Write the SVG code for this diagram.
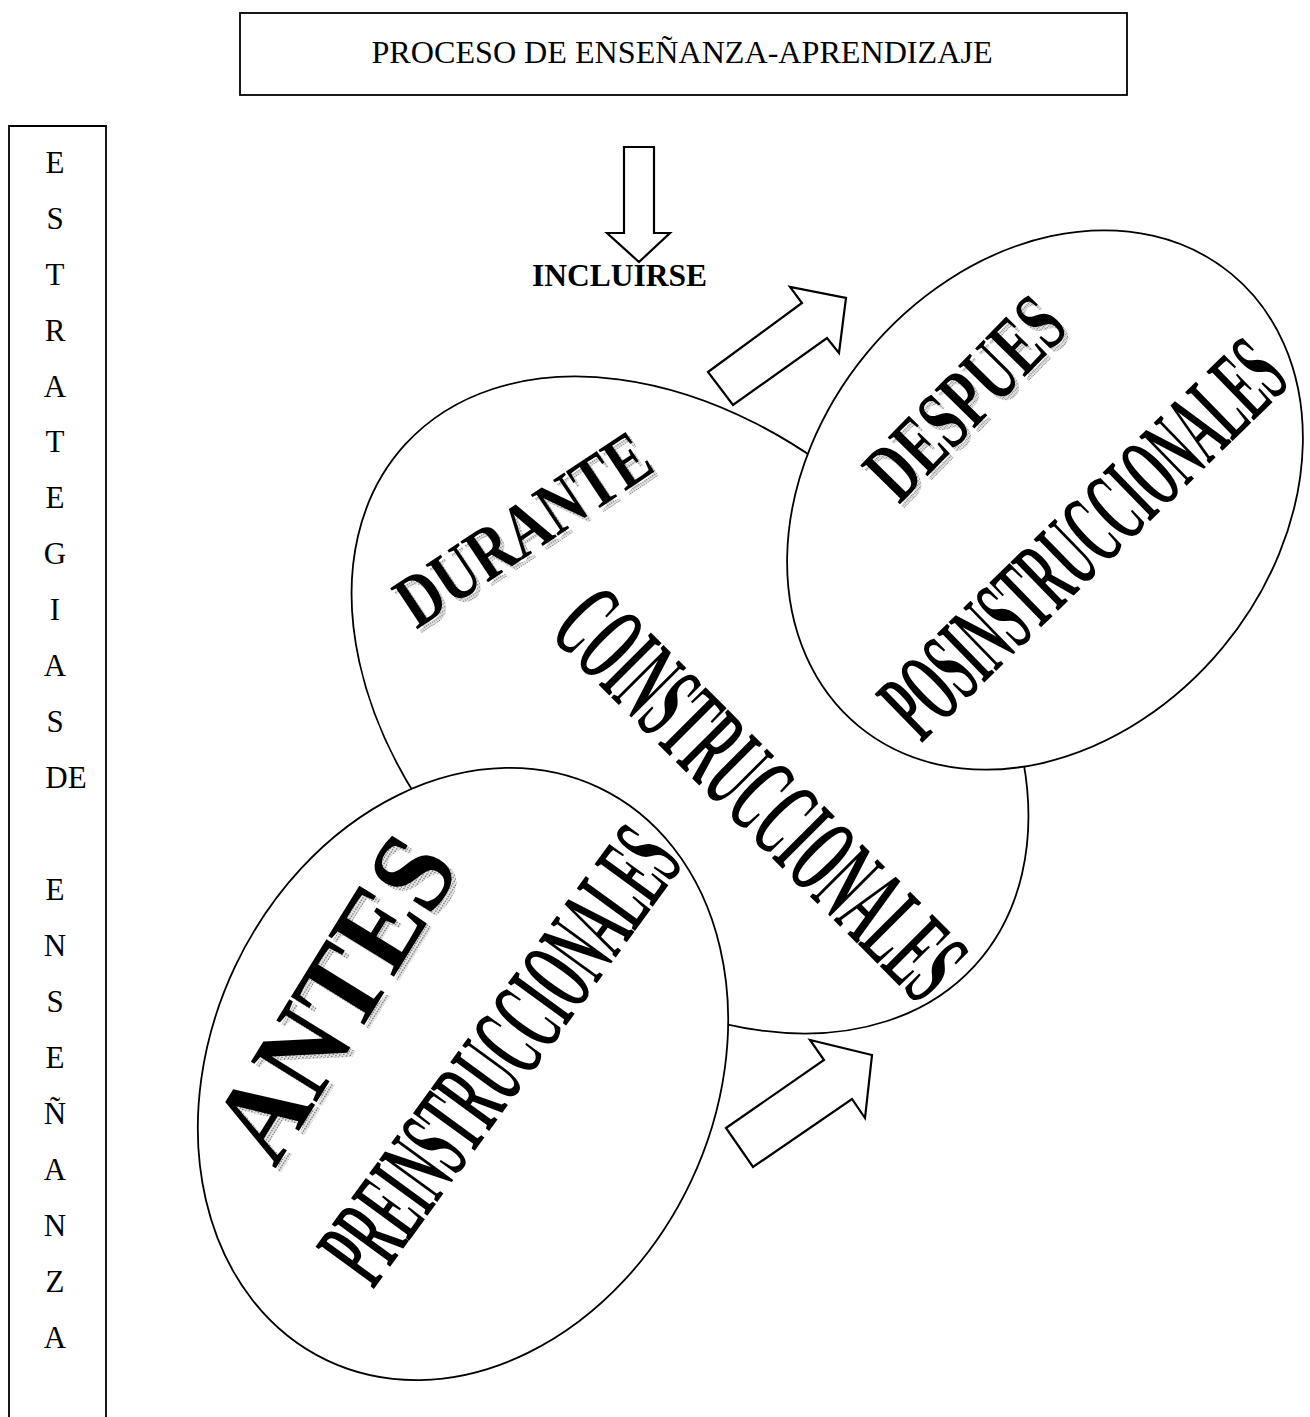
<svg xmlns="http://www.w3.org/2000/svg" width="1310" height="1417" viewBox="0 0 1310 1417">
<defs>
<pattern id="stip" width="3" height="3" patternUnits="userSpaceOnUse">
<rect width="3" height="3" fill="#e6e6e6"/>
<rect x="0" y="0" width="1.5" height="1.5" fill="#7a7a7a"/>
</pattern>
</defs>
<style>
.ln{fill:none;stroke:#000;stroke-width:1.8}
.el{fill:#fff;stroke:#000;stroke-width:1.8}
.ar{fill:#fff;stroke:#000;stroke-width:2.2;stroke-linejoin:miter}
.t{font-family:"Liberation Serif","Times New Roman",serif;fill:#000}
.col{font-size:31px;text-anchor:middle}
.w{font-family:"Liberation Serif","Times New Roman",serif;font-weight:bold;text-anchor:middle;fill:#000}
.sh{fill:url(#stip)}
</style>
<rect width="1310" height="1417" fill="#fff"/>

<g id="title">
<rect x="240" y="13" width="887" height="82" class="ln"/>
<text class="t" x="682" y="63" font-size="32" text-anchor="middle" textLength="621" lengthAdjust="spacingAndGlyphs">PROCESO DE ENSEÑANZA-APRENDIZAJE</text>
</g>

<g id="estrategias">
<path d="M9 1417 V126 H106 V1417" class="ln" stroke-width="2"/>
<g class="t col">
<text x="55" y="173">E</text>
<text x="55" y="229">S</text>
<text x="55" y="285">T</text>
<text x="55" y="341">R</text>
<text x="55" y="397">A</text>
<text x="55" y="452">T</text>
<text x="55" y="508">E</text>
<text x="55" y="564">G</text>
<text x="55" y="620">I</text>
<text x="55" y="676">A</text>
<text x="55" y="732">S</text>
<text x="66" y="788">DE</text>
<text x="55" y="900">E</text>
<text x="55" y="956">N</text>
<text x="55" y="1012">S</text>
<text x="55" y="1068">E</text>
<text x="55" y="1124">Ñ</text>
<text x="55" y="1180">A</text>
<text x="55" y="1236">N</text>
<text x="55" y="1292">Z</text>
<text x="55" y="1348">A</text>
</g>
</g>

<g id="durante">
<ellipse cx="690" cy="705" rx="386" ry="271" transform="rotate(42.5 690 705)" class="el"/>
<text class="w sh" font-size="75" y="25" transform="translate(527,533) rotate(-33.6) scale(0.78,1)">DURANTE</text>
<text class="w" font-size="75" y="25" transform="translate(523,529) rotate(-33.6) scale(0.78,1)">DURANTE</text>
<text class="w" font-size="113" y="37" transform="translate(760,794) rotate(45) scale(0.415,1)">COINSTRUCCIONALES</text>
</g>

<g id="antes">
<ellipse cx="463" cy="1074" rx="317" ry="252" transform="rotate(-64.6 463 1074)" class="el"/>
<text class="w sh" font-size="118" y="39" transform="translate(340,1002) rotate(-58.3) scale(0.9,1)">ANTES</text>
<text class="w" font-size="118" y="39" transform="translate(335,998) rotate(-58.3) scale(0.9,1)">ANTES</text>
<text class="w" font-size="110" y="36" transform="translate(500,1055) rotate(-53.9) scale(0.41,1)">PREINSTRUCCIONALES</text>
</g>

<g id="despues">
<ellipse cx="1045" cy="500" rx="293" ry="231" transform="rotate(-50.5 1045 500)" class="el"/>
<text class="w sh" font-size="85" y="28" transform="translate(969,402) rotate(-45.6) scale(0.64,1)">DESPUES</text>
<text class="w" font-size="85" y="28" transform="translate(965,398) rotate(-45.6) scale(0.64,1)">DESPUES</text>
<text class="w" font-size="104" y="34" transform="translate(1083,539) rotate(-44.2) scale(0.426,1)">POSINSTRUCCIONALES</text>
</g>

<g id="connectors">
<polygon class="ar" points="624,147 654,147 654,233 670,233 639,262 607,233 624,233"/>
<polygon class="ar" points="708,372 802,303 790,287 846,298 839,353 827,338 733,405"/>
<polygon class="ar" points="726,1128 824,1060 810,1040 872,1055 865,1118 852,1099 753,1167"/>
</g>

<g id="incluirse">
<text class="t" x="532" y="286" font-size="32" font-weight="bold" textLength="175" lengthAdjust="spacingAndGlyphs">INCLUIRSE</text>
</g>
</svg>
